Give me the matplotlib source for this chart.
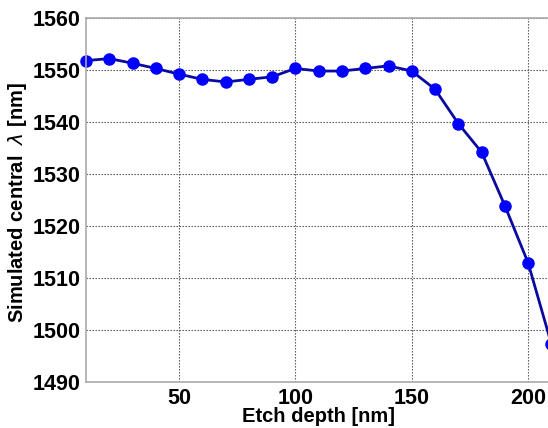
import matplotlib
matplotlib.use("Agg")
import matplotlib.pyplot as plt

# etch depth [nm] and simulated central wavelength [nm]
etch_depth = [10, 20, 30, 40, 50, 60, 70, 80, 90, 100, 110,
              120, 130, 140, 150, 160, 170, 180, 190, 200, 210]
central_wl = [1551.8, 1552.2, 1551.3, 1550.3, 1549.2, 1548.2, 1547.7,
              1548.2, 1548.7, 1550.3, 1549.8, 1549.8, 1550.3, 1550.8,
              1549.8, 1546.3, 1539.7, 1534.2, 1523.9, 1512.9, 1497.3]
x_ticks = [50, 100, 150, 200]
y_ticks = [1490, 1500, 1510, 1520, 1530, 1540, 1550, 1560]

plt.rcParams['font.family'] = ['Liberation Sans', 'DejaVu Sans']

fig = plt.figure(figsize=(5.48, 4.28), dpi=100)
# axes run a little past the right edge, like the cropped original
ax = fig.add_axes([86 / 548, 1 - 382 / 428, 465.4 / 548, 364 / 428])

ax.plot(etch_depth, central_wl, '-', color='#0a0aa0', linewidth=2,
        marker='o', markersize=8, markerfacecolor='#0000ff',
        markeredgecolor='#0000ff', clip_on=False)

ax.set_xlim(10, 210)
ax.set_ylim(1490, 1560)
ax.set_xticks(x_ticks)
ax.set_yticks(y_ticks)
ax.tick_params(length=0, labelsize=15.5, pad=4)
for lbl in ax.get_xticklabels() + ax.get_yticklabels():
    lbl.set_fontweight('bold')

ax.grid(True, linestyle=(0, (1.2, 1.5)), color='#444444', linewidth=0.8)
for s in ax.spines.values():
    s.set_color('#aaaaaa')
    s.set_linewidth(1.2)

ax.set_xlabel('Etch depth [nm]', fontsize=14.5, fontweight='bold', labelpad=-1)
ax.set_ylabel(r'Simulated central  $\lambda$ [nm]', fontsize=14.5,
              fontweight='bold')
ax.yaxis.set_label_coords(-0.123, 0.492)

fig.savefig('out.png', dpi=100)
